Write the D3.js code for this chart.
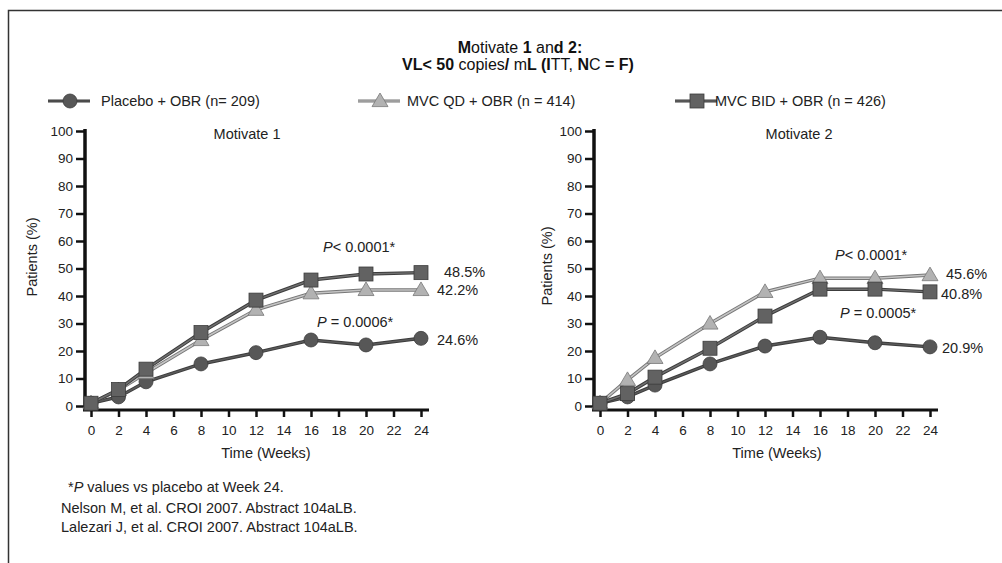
<!DOCTYPE html>
<html>
<head>
<meta charset="utf-8">
<script src="https://cdn.jsdelivr.net/npm/d3@7"></script>
<style>
  body { margin: 0; background: #fff; }
  svg { display: block; font-family: "Liberation Sans", Arial, sans-serif; }
  .tick text { font-size: 13.5px; fill: #222; }
</style>
</head>
<body>
<svg id="chart" width="1002" height="563"></svg>
<script>
// weeks on the x axis, percentages
var weeks = [0, 2, 4, 8, 12, 16, 20, 24];
var xTicks = [0, 2, 4, 6, 8, 10, 12, 14, 16, 18, 20, 22, 24];
var yTicks = [0, 10, 20, 30, 40, 50, 60, 70, 80, 90, 100];

var m1Placebo = [1, 3.3, 8.8, 15.3, 19.4, 24, 22.2, 24.6];
var m1QD      = [1, 5.8, 12, 24, 35, 41, 42.2, 42.2];
var m1BID     = [1, 6, 13.4, 26.7, 38.5, 45.8, 48, 48.5];

var m2Placebo = [1, 3.3, 7.6, 15.3, 21.8, 25, 23, 21.5];
var m2QD      = [1, 9.5, 17.5, 30, 41.5, 46.5, 46.5, 47.6];
var m2BID     = [1, 4.5, 10.5, 21, 32.7, 42.5, 42.5, 41.5];

var seriesNames = ["Placebo + OBR (n= 209)", "MVC QD + OBR (n = 414)", "MVC BID + OBR (n = 426)"];
var endLabels1 = ["24.6%", "42.2%", "48.5%"];
var endLabels2 = ["20.9%", "45.6%", "40.8%"];

var styles = [
  {shape: "circle",   fill: "#575757", line: "#5a5a5a", edge: "#3c3c3c"},
  {shape: "triangle", fill: "#b2b2b2", line: "#c4c4c4", edge: "#777777"},
  {shape: "square",   fill: "#626262", line: "#707070", edge: "#3c3c3c"}
];

var svg = d3.select("#chart");
var FONT = 14.5;

// frame
svg.append("path")
  .attr("d", "M8.5,563 L8.5,10.5 L1002,10.5")
  .attr("fill", "none").attr("stroke", "#333").attr("stroke-width", 1.5);

// title
var title = svg.append("g")
  .attr("font-size", 16).attr("text-anchor", "middle").attr("fill", "#111");
var t1 = title.append("text").attr("x", 520).attr("y", 53);
t1.append("tspan").attr("font-weight", "bold").text("M");
t1.append("tspan").text("otivate ");
t1.append("tspan").attr("font-weight", "bold").text("1");
t1.append("tspan").text(" an");
t1.append("tspan").attr("font-weight", "bold").text("d 2:");
var t2 = title.append("text").attr("x", 518).attr("y", 70);
t2.append("tspan").attr("font-weight", "bold").text("VL< 50");
t2.append("tspan").text(" copies");
t2.append("tspan").attr("font-weight", "bold").text("/");
t2.append("tspan").text(" m");
t2.append("tspan").attr("font-weight", "bold").text("L  (I");
t2.append("tspan").text("TT, ");
t2.append("tspan").attr("font-weight", "bold").text("N");
t2.append("tspan").text("C ");
t2.append("tspan").attr("font-weight", "bold").text("= F)");

function marker(g, shape, cx, cy, st) {
  if (shape === "circle") {
    g.append("circle").attr("cx", cx).attr("cy", cy).attr("r", 7)
      .attr("fill", st.fill).attr("stroke", st.edge).attr("stroke-width", 0.8);
  } else if (shape === "square") {
    g.append("rect").attr("x", cx - 7).attr("y", cy - 7)
      .attr("width", 14).attr("height", 14)
      .attr("fill", st.fill).attr("stroke", st.edge).attr("stroke-width", 0.8);
  } else {
    var h = 8;
    g.append("path")
      .attr("d", "M" + cx + "," + (cy - h) + "L" + (cx + h) + "," + (cy + h * 0.7) + "L" + (cx - h) + "," + (cy + h * 0.7) + "Z")
      .attr("fill", st.fill).attr("stroke", st.edge).attr("stroke-width", 0.8);
  }
}

// legend
var legendX = [70, 380, 697];
var legendTextX = [101, 407, 715];
var legend = svg.append("g").attr("font-size", FONT).attr("fill", "#222");
seriesNames.forEach(function(name, i) {
  legend.append("line").attr("x1", legendX[i] - 22).attr("x2", legendX[i] + 20)
    .attr("y1", 101).attr("y2", 101).attr("stroke", styles[i].edge).attr("stroke-width", 3);
  legend.append("line").attr("x1", legendX[i] - 22).attr("x2", legendX[i] + 20)
    .attr("y1", 101).attr("y2", 101).attr("stroke", styles[i].line).attr("stroke-width", 1.2);
  marker(legend, styles[i].shape, legendX[i], 101, styles[i]);
  legend.append("text").attr("x", legendTextX[i]).attr("y", 106).text(name);
});

function drawPanel(cfg) {
  var g = svg.append("g");
  var x = d3.scaleLinear().domain([0, 24]).range([cfg.x0, cfg.x0 + 330]);
  var y = d3.scaleLinear().domain([0, 100]).range([406, 131]);

  // y axis
  var ya = g.append("g").attr("transform", "translate(" + (cfg.x0 - 6) + ",0)")
    .call(d3.axisLeft(y).tickValues(yTicks).tickSize(9).tickPadding(3));
  ya.select(".domain").remove();
  ya.selectAll(".tick line").attr("stroke", "#111").attr("stroke-width", 2.5);
  g.append("line").attr("x1", cfg.x0 - 6).attr("x2", cfg.x0 - 6)
    .attr("y1", 129).attr("y2", 411).attr("stroke", "#111").attr("stroke-width", 3.5);

  // x axis
  var xa = g.append("g").attr("transform", "translate(0,411)")
    .call(d3.axisBottom(x).tickValues(xTicks).tickSize(6).tickPadding(8));
  xa.select(".domain").remove();
  xa.selectAll(".tick line").attr("stroke", "#111").attr("stroke-width", 2.5);
  g.append("line").attr("x1", cfg.x0 - 8).attr("x2", cfg.x0 + 338)
    .attr("y1", 410).attr("y2", 410).attr("stroke", "#111").attr("stroke-width", 3);

  g.append("text").attr("x", cfg.x0 + cfg.timeDx).attr("y", 458).attr("text-anchor", "middle")
    .attr("font-size", FONT).attr("fill", "#222").text("Time (Weeks)");
  g.append("text").attr("transform", "translate(" + (cfg.x0 - cfg.patDx) + "," + cfg.patY + ") rotate(-90)")
    .attr("text-anchor", "middle").attr("font-size", FONT).attr("fill", "#222").text("Patients (%)");
  g.append("text").attr("x", cfg.nameX).attr("y", 139).attr("text-anchor", "middle")
    .attr("font-size", FONT).attr("fill", "#222").text(cfg.name);

  var line = d3.line().x(function(d, i) { return x(weeks[i]); }).y(function(d) { return y(d); });
  cfg.series.forEach(function(vals, i) {
    g.append("path").attr("d", line(vals)).attr("fill", "none")
      .attr("stroke", styles[i].edge).attr("stroke-width", 3.5);
    g.append("path").attr("d", line(vals)).attr("fill", "none")
      .attr("stroke", styles[i].line).attr("stroke-width", 1.5);
  });
  cfg.series.forEach(function(vals, i) {
    vals.forEach(function(v, j) { marker(g, styles[i].shape, x(weeks[j]), y(v), styles[i]); });
  });

  // end labels and p values
  var lab = g.append("g").attr("font-size", FONT).attr("fill", "#222");
  cfg.endLabels.forEach(function(t, i) {
    lab.append("text").attr("x", cfg.endX[i]).attr("y", cfg.endY[i]).text(t);
  });
  cfg.pvals.forEach(function(p) {
    var tx = lab.append("text").attr("x", p.x).attr("y", p.y);
    tx.append("tspan").attr("font-style", "italic").text("P");
    tx.append("tspan").text(p.t);
  });
}

drawPanel({
  x0: 91, name: "Motivate 1", nameX: 247, timeDx: 175, patDx: 54, patY: 257,
  series: [m1Placebo, m1QD, m1BID],
  endLabels: endLabels1, endX: [437, 437, 444], endY: [345, 295, 277],
  pvals: [{x: 323, y: 252, t: "< 0.0001*"}, {x: 317, y: 327, t: " = 0.0006*"}]
});
drawPanel({
  x0: 600, name: "Motivate 2", nameX: 799, timeDx: 177, patDx: 48, patY: 266,
  series: [m2Placebo, m2QD, m2BID],
  endLabels: endLabels2, endX: [942, 946, 941], endY: [353, 279, 299],
  pvals: [{x: 835, y: 260, t: "< 0.0001*"}, {x: 840, y: 318, t: " = 0.0005*"}]
});

// footnotes
var foot = svg.append("g").attr("font-size", FONT).attr("fill", "#222");
var f1 = foot.append("text").attr("x", 68).attr("y", 492);
f1.append("tspan").text("*");
f1.append("tspan").attr("font-style", "italic").text("P");
f1.append("tspan").text(" values vs placebo at Week 24.");
foot.append("text").attr("x", 61).attr("y", 513).text("Nelson M, et al. CROI 2007. Abstract 104aLB.");
foot.append("text").attr("x", 61).attr("y", 532).text("Lalezari J, et al. CROI 2007. Abstract 104aLB.");
</script>
</body>
</html>
